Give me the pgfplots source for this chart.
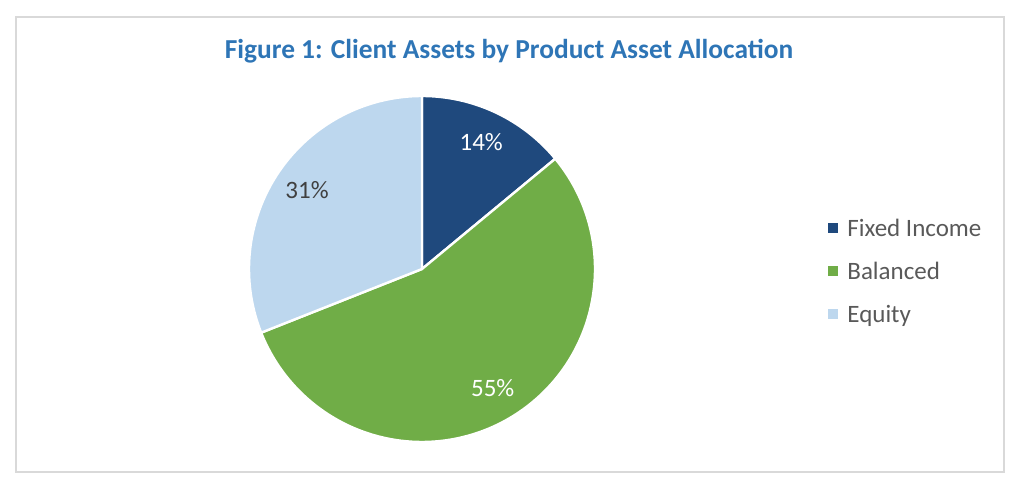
\documentclass[border=0pt]{standalone}
\usepackage{pgfplots}
\pgfplotsset{compat=1.18}
\usepackage{pgfplotstable}
\usetikzlibrary{calc}
\usepackage{fontspec}
\setmainfont{Carlito}

\definecolor{titleblue}{RGB}{46,117,182}
\definecolor{legendgray}{RGB}{89,89,89}
\definecolor{framegray}{RGB}{217,217,217}
\definecolor{piecol0}{RGB}{31,73,125}
\definecolor{piecol1}{RGB}{112,173,71}
\definecolor{piecol2}{RGB}{189,215,238}
\definecolor{labcol0}{RGB}{255,255,255}
\definecolor{labcol1}{RGB}{255,255,255}
\definecolor{labcol2}{RGB}{64,64,64}

\pgfplotstableread[col sep=comma]{
label,value
Fixed Income,14
Balanced,55
Equity,31
}\piedata

\begin{document}
\begin{tikzpicture}
\begin{axis}[
  scale only axis,
  width=512pt, height=241.5pt,
  xmin=0, xmax=1024, ymin=0, ymax=483,
  hide axis, clip=false,
]
  % canvas and frame (1 unit = 1 px of the reference)
  \path (axis cs:0,0) rectangle (axis cs:1024,483);
  \draw[framegray, line width=1pt] (axis cs:16,11) rectangle (axis cs:1004,466);

  \node[anchor=base, text=titleblue, font=\bfseries\fontsize{13.7}{16}\selectfont]
    at (axis cs:509,424) {Figure 1: Client Assets by Product Asset Allocation};

  % pie slices, clockwise from 12 o'clock
  \def\angA{90}
  \pgfplotsforeachungrouped \i in {0,1,2}{
    \pgfplotstablegetelem{\i}{value}\of\piedata
    \let\val\pgfplotsretval
    \pgfmathsetmacro\angB{\angA-3.6*\val}
    \pgfmathsetmacro\angM{(\angA+\angB)/2}
    \pgfmathtruncatemacro\pct{round(\val)}
    \edef\tmp{%
      \noexpand\fill[piecol\i, draw=white, line width=1.2pt, line join=round]
        (axis cs:422,214) -- ++(\angA:86.5pt)
        arc[start angle=\angA, end angle=\angB, radius=86.5pt] -- cycle;
      \noexpand\node[text=labcol\i, font=\noexpand\fontsize{12.5}{14}\noexpand\selectfont]
        at ($(axis cs:422,215)+(\angM:69.5pt)$) {\pct\noexpand\%};
    }\tmp
    \global\let\angA\angB
  }

  % legend
  \pgfplotsforeachungrouped \i/\yb in {0/247,1/204,2/161}{
    \pgfplotstablegetelem{\i}{label}\of\piedata
    \let\lab\pgfplotsretval
    \edef\tmp{%
      \noexpand\fill[piecol\i] (axis cs:828,\yb+3) rectangle (axis cs:838,\yb+13);
      \noexpand\node[anchor=base west, inner sep=0pt, text=legendgray,
        font=\noexpand\fontsize{12.5}{14}\noexpand\selectfont]
        at (axis cs:847,\yb) {\lab};
    }\tmp
  }
\end{axis}
\end{tikzpicture}
\end{document}
